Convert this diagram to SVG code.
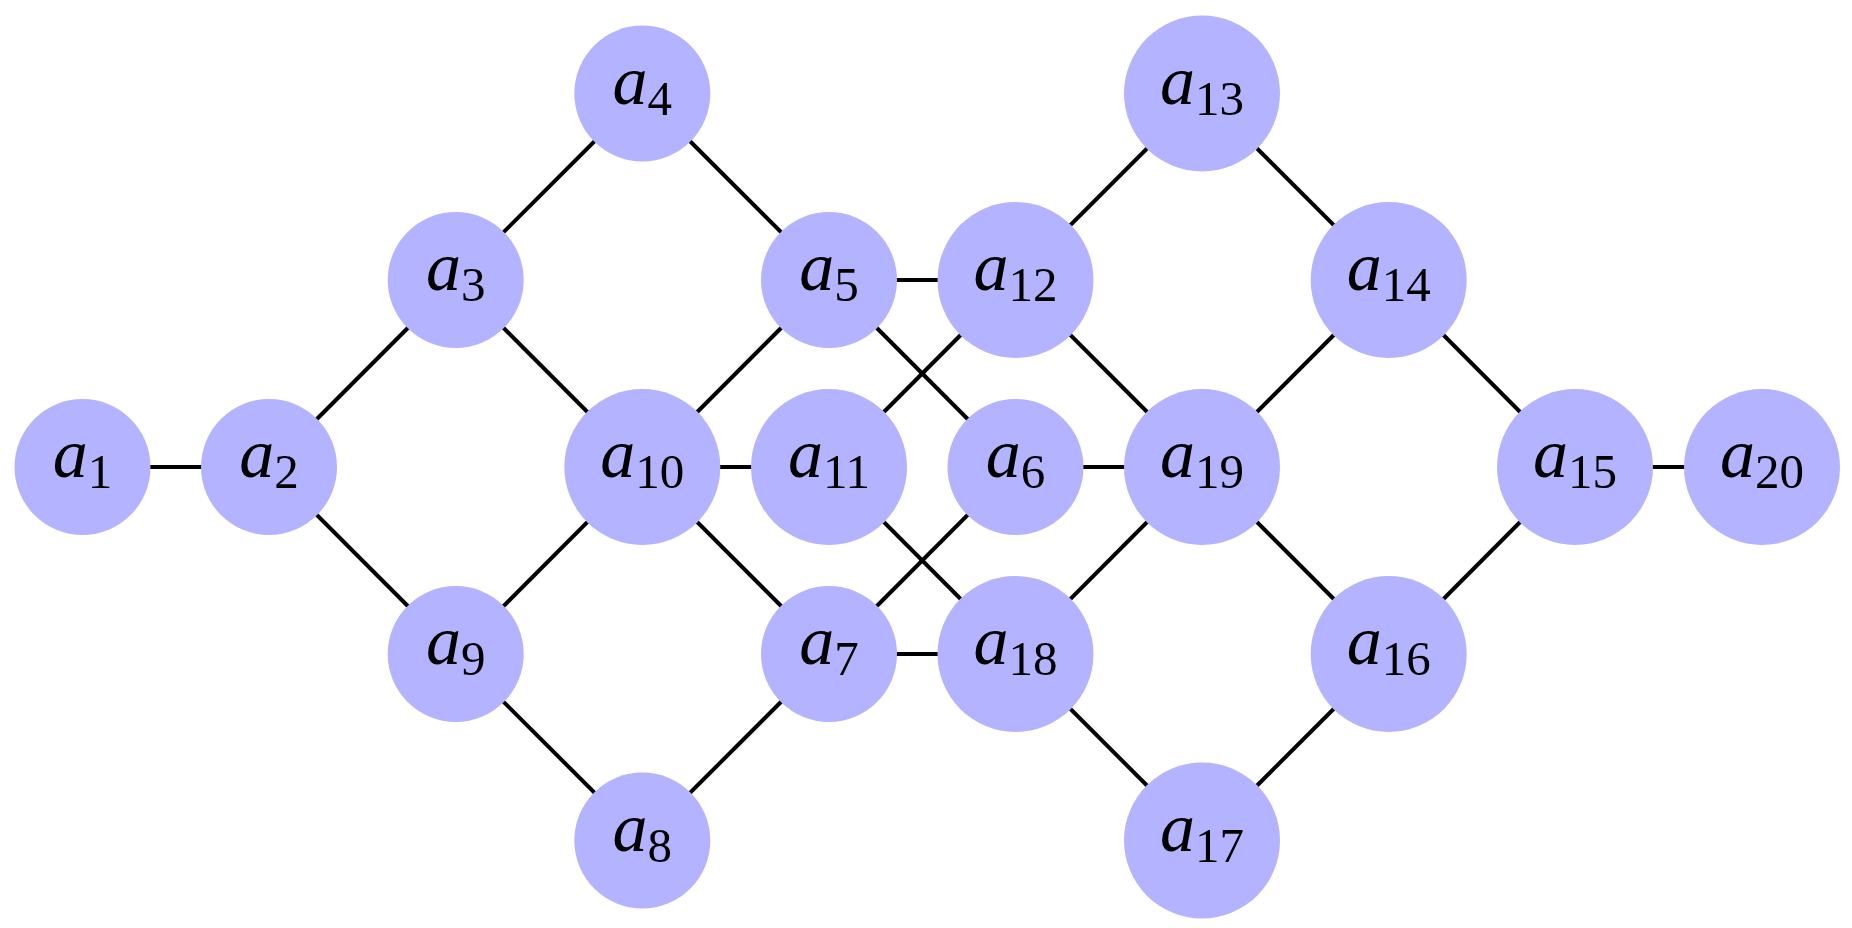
<svg xmlns="http://www.w3.org/2000/svg" width="1852" height="928" viewBox="0 0 1852 928">
<style>
.n{fill:#b3b3ff}
.e line{stroke:#000;stroke-width:4}
.t{font-family:"Liberation Serif","DejaVu Serif",serif;font-size:70px;text-anchor:middle;fill:#000}
.a{font-style:italic}
.s{font-size:49px}
</style>
<rect width="1852" height="928" fill="#fff"/>
<g id="connectors" class="e">
<line x1="82.5" y1="467" x2="269" y2="467"/>
<line x1="269" y1="467" x2="455.7" y2="280"/>
<line x1="269" y1="467" x2="455.7" y2="654"/>
<line x1="455.7" y1="280" x2="642.3" y2="93.5"/>
<line x1="455.7" y1="280" x2="642.3" y2="467"/>
<line x1="642.3" y1="93.5" x2="829" y2="280"/>
<line x1="455.7" y1="654" x2="642.3" y2="467"/>
<line x1="455.7" y1="654" x2="642.3" y2="840.5"/>
<line x1="642.3" y1="840.5" x2="829" y2="654"/>
<line x1="642.3" y1="467" x2="829" y2="280"/>
<line x1="642.3" y1="467" x2="829" y2="467"/>
<line x1="642.3" y1="467" x2="829" y2="654"/>
<line x1="829" y1="280" x2="1015.5" y2="280"/>
<line x1="829" y1="280" x2="1015.5" y2="467"/>
<line x1="829" y1="467" x2="1015.5" y2="280"/>
<line x1="829" y1="467" x2="1015.5" y2="654"/>
<line x1="829" y1="654" x2="1015.5" y2="467"/>
<line x1="829" y1="654" x2="1015.5" y2="654"/>
<line x1="1015.5" y1="467" x2="1202" y2="467"/>
<line x1="1015.5" y1="280" x2="1202" y2="93.5"/>
<line x1="1015.5" y1="280" x2="1202" y2="467"/>
<line x1="1202" y1="93.5" x2="1388.7" y2="280"/>
<line x1="1388.7" y1="280" x2="1202" y2="467"/>
<line x1="1388.7" y1="280" x2="1575" y2="467"/>
<line x1="1202" y1="467" x2="1015.5" y2="654"/>
<line x1="1202" y1="467" x2="1388.7" y2="654"/>
<line x1="1015.5" y1="654" x2="1202" y2="840.5"/>
<line x1="1202" y1="840.5" x2="1388.7" y2="654"/>
<line x1="1388.7" y1="654" x2="1575" y2="467"/>
<line x1="1575" y1="467" x2="1762" y2="467"/>
</g>
<g id="a1"><circle class="n" cx="82.5" cy="467" r="68"/><text class="t" x="82.5" y="477"><tspan class="a">a</tspan><tspan class="s" dy="11">1</tspan></text></g>
<g id="a2"><circle class="n" cx="269" cy="467" r="68"/><text class="t" x="269" y="477"><tspan class="a">a</tspan><tspan class="s" dy="11">2</tspan></text></g>
<g id="a3"><circle class="n" cx="455.7" cy="280" r="68"/><text class="t" x="455.7" y="290"><tspan class="a">a</tspan><tspan class="s" dy="11">3</tspan></text></g>
<g id="a4"><circle class="n" cx="642.3" cy="93.5" r="68"/><text class="t" x="642.3" y="103.5"><tspan class="a">a</tspan><tspan class="s" dy="11">4</tspan></text></g>
<g id="a5"><circle class="n" cx="829" cy="280" r="68"/><text class="t" x="829" y="290"><tspan class="a">a</tspan><tspan class="s" dy="11">5</tspan></text></g>
<g id="a6"><circle class="n" cx="1015.5" cy="467" r="68"/><text class="t" x="1015.5" y="477"><tspan class="a">a</tspan><tspan class="s" dy="11">6</tspan></text></g>
<g id="a7"><circle class="n" cx="829" cy="654" r="68"/><text class="t" x="829" y="664"><tspan class="a">a</tspan><tspan class="s" dy="11">7</tspan></text></g>
<g id="a8"><circle class="n" cx="642.3" cy="840.5" r="68"/><text class="t" x="642.3" y="850.5"><tspan class="a">a</tspan><tspan class="s" dy="11">8</tspan></text></g>
<g id="a9"><circle class="n" cx="455.7" cy="654" r="68"/><text class="t" x="455.7" y="664"><tspan class="a">a</tspan><tspan class="s" dy="11">9</tspan></text></g>
<g id="a10"><circle class="n" cx="642.3" cy="467" r="78"/><text class="t" x="642.3" y="477"><tspan class="a">a</tspan><tspan class="s" dy="11">10</tspan></text></g>
<g id="a11"><circle class="n" cx="829" cy="467" r="78"/><text class="t" x="829" y="477"><tspan class="a">a</tspan><tspan class="s" dy="11">11</tspan></text></g>
<g id="a12"><circle class="n" cx="1015.5" cy="280" r="78"/><text class="t" x="1015.5" y="290"><tspan class="a">a</tspan><tspan class="s" dy="11">12</tspan></text></g>
<g id="a13"><circle class="n" cx="1202" cy="93.5" r="78"/><text class="t" x="1202" y="103.5"><tspan class="a">a</tspan><tspan class="s" dy="11">13</tspan></text></g>
<g id="a14"><circle class="n" cx="1388.7" cy="280" r="78"/><text class="t" x="1388.7" y="290"><tspan class="a">a</tspan><tspan class="s" dy="11">14</tspan></text></g>
<g id="a15"><circle class="n" cx="1575" cy="467" r="78"/><text class="t" x="1575" y="477"><tspan class="a">a</tspan><tspan class="s" dy="11">15</tspan></text></g>
<g id="a16"><circle class="n" cx="1388.7" cy="654" r="78"/><text class="t" x="1388.7" y="664"><tspan class="a">a</tspan><tspan class="s" dy="11">16</tspan></text></g>
<g id="a17"><circle class="n" cx="1202" cy="840.5" r="78"/><text class="t" x="1202" y="850.5"><tspan class="a">a</tspan><tspan class="s" dy="11">17</tspan></text></g>
<g id="a18"><circle class="n" cx="1015.5" cy="654" r="78"/><text class="t" x="1015.5" y="664"><tspan class="a">a</tspan><tspan class="s" dy="11">18</tspan></text></g>
<g id="a19"><circle class="n" cx="1202" cy="467" r="78"/><text class="t" x="1202" y="477"><tspan class="a">a</tspan><tspan class="s" dy="11">19</tspan></text></g>
<g id="a20"><circle class="n" cx="1762" cy="467" r="78"/><text class="t" x="1762" y="477"><tspan class="a">a</tspan><tspan class="s" dy="11">20</tspan></text></g>
</svg>
